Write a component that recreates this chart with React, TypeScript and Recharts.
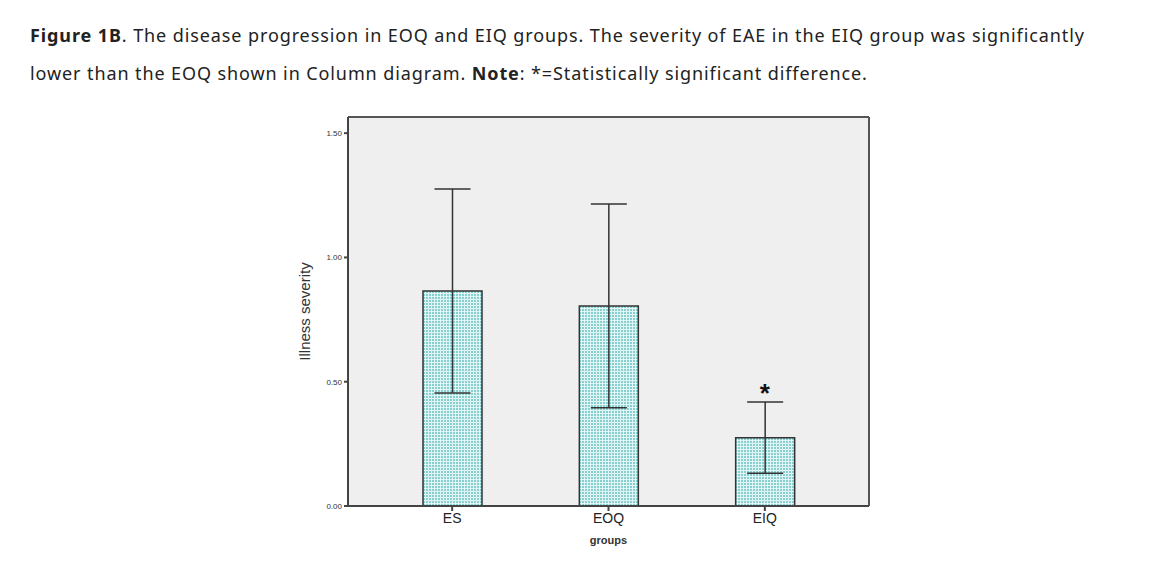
import React from 'react';
import { BarChart, Bar, XAxis, YAxis, CartesianGrid, ErrorBar, ReferenceDot } from 'recharts';

const groups = ['ES', 'EOQ', 'EIQ'];
const severity = [0.865, 0.805, 0.275];
const severityErr = [0.41, 0.41, 0.143];
const yTicks = [0, 0.5, 1, 1.5];
const significant = ['EIQ'];
const starLevel = 0.47;

const data = groups.map((g, i) => ({ group: g, severity: severity[i], err: severityErr[i] }));

const captionFont = '"Noto Sans", Arial, sans-serif';

// frame lines at the plot edges, taken from the chart's own offset
const frameH = ({ offset }: any) => [offset.top, offset.top + offset.height];
const frameV = ({ offset }: any) => [offset.left, offset.left + offset.width];

export default function App() {
    return (
        <div style={{ position: 'absolute', left: 0, top: 0, width: 1168, height: 573, background: '#fff' }}>
            <div style={{ position: 'absolute', left: 30, top: 16, fontFamily: captionFont, fontSize: 18, letterSpacing: 0.9, color: '#222', lineHeight: '38px', whiteSpace: 'nowrap' }}>
                <div><b>Figure 1B</b>. The disease progression in EOQ and EIQ groups. The severity of EAE in the EIQ group was significantly</div>
                <div>lower than the EOQ shown in Column diagram. <b>Note</b>: *=Statistically significant difference.</div>
            </div>
            <BarChart
                width={1168}
                height={573}
                data={data}
                margin={{ top: 117, right: 299, bottom: 37, left: 288 }}
                style={{ position: 'absolute', left: 0, top: 0 }}
            >
                <defs>
                    <pattern id="dots" width="3" height="3" patternUnits="userSpaceOnUse">
                        <rect width="3" height="3" fill="#e2f5f5" />
                        <rect width="2" height="2" fill="#88d0d0" />
                    </pattern>
                </defs>
                <CartesianGrid
                    fill="#efefef"
                    stroke="#555"
                    strokeWidth={2}
                    horizontalCoordinatesGenerator={frameH}
                    verticalCoordinatesGenerator={frameV}
                />
                <XAxis
                    dataKey="group"
                    height={30}
                    padding={{ left: 26, right: 26 }}
                    axisLine={{ stroke: '#444', strokeWidth: 2 }}
                    tickLine={{ stroke: '#444', strokeWidth: 2 }}
                    tickSize={5}
                    tick={{ fontSize: 14, fill: '#222', fontFamily: 'Arial, sans-serif' }}
                    label={{ value: 'groups', position: 'insideBottom', offset: -8, style: { fontSize: 11, fontWeight: 'bold', fill: '#333', fontFamily: 'Arial, sans-serif' } }}
                />
                <YAxis
                    width={60}
                    domain={[0, 1.565]}
                    ticks={yTicks}
                    tickFormatter={(v: number) => v.toFixed(2)}
                    axisLine={{ stroke: '#444', strokeWidth: 2 }}
                    tickLine={{ stroke: '#444', strokeWidth: 2 }}
                    tickSize={4}
                    tick={{ fontSize: 8, fill: '#333', fontFamily: 'Arial, sans-serif' }}
                    label={{ value: 'Illness severity', angle: -90, position: 'insideLeft', offset: 17, style: { textAnchor: 'middle', fontSize: 15, fill: '#333', fontFamily: 'Arial, sans-serif' } }}
                />
                <Bar
                    dataKey="severity"
                    barSize={59}
                    fill="url(#dots)"
                    stroke="#333"
                    strokeWidth={1.5}
                    isAnimationActive={false}
                >
                    <ErrorBar dataKey="err" width={18} stroke="#333" strokeWidth={1.5} direction="y" />
                </Bar>
                {significant.map((g) => (
                    <ReferenceDot
                        key={g}
                        x={g}
                        y={starLevel}
                        r={0}
                        label={{ value: '*', position: 'center', dy: 4, style: { fontSize: 26, fontWeight: 'bold', fill: '#111', fontFamily: 'Arial, sans-serif' } }}
                    />
                ))}
            </BarChart>
        </div>
    );
}
